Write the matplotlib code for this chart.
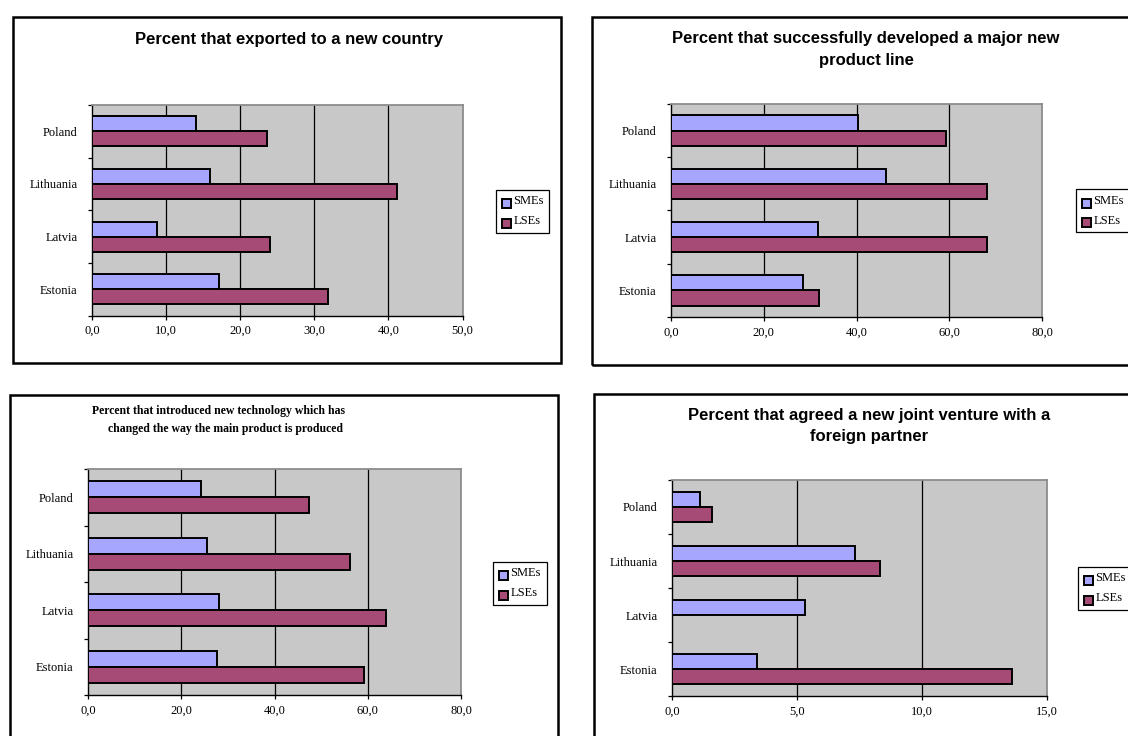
import matplotlib
matplotlib.use('Agg')
import matplotlib.pyplot as plt
from matplotlib.patches import Rectangle, Patch
from matplotlib.legend_handler import HandlerPatch
from matplotlib.ticker import FixedLocator, FuncFormatter

W, H = 1128, 736

countries = ['Estonia', 'Latvia', 'Lithuania', 'Poland']
series_names = ['SMEs', 'LSEs']

export_sme = [17.2, 8.8, 15.9, 14.0]
export_lse = [31.8, 24.0, 41.1, 23.6]
product_sme = [28.5, 31.6, 46.3, 40.4]
product_lse = [31.9, 68.1, 68.1, 59.2]
tech_sme = [27.6, 28.0, 25.5, 24.3]
tech_lse = [59.1, 64.0, 56.1, 47.5]
jv_sme = [3.4, 5.3, 7.3, 1.1]
jv_lse = [13.6, 0.0, 8.3, 1.6]

title_export = ['Percent that exported to a new country']
title_product = ['Percent that successfully developed a major new', 'product line']
title_tech = ['Percent that introduced new technology which has',
              'changed the way the main product is produced']
title_jv = ['Percent that agreed a new joint venture with a', 'foreign partner']

SME_COLOR = '#a6a6ff'
LSE_COLOR = '#a64a76'
BG = '#c8c8c8'
SERIF = 'Liberation Serif'
SANS = 'Liberation Sans'

fig = plt.figure(figsize=(W / 100, H / 100), dpi=100)


def fx(x):
    return x / W


def fy(y):
    return 1 - y / H


def frame(x0, y0, x1, y1):
    fig.add_artist(Rectangle((fx(x0), fy(y1)), (x1 - x0) / W, (y1 - y0) / H,
                             transform=fig.transFigure, fill=False,
                             ec='black', lw=1.8))


def low_square(legend, orig_handle, xdescent, ydescent, width, height, fontsize):
    s = 6.4
    return Rectangle((-xdescent + (width - s) / 2, -ydescent - 2.6), s, s)


def panel(box, sme, lse, xmax, step, title_lines, title_pos, title_style,
          legend_pos):
    x0, y0, x1, y1 = box
    ax = fig.add_axes([fx(x0), fy(y1), (x1 - x0) / W, (y1 - y0) / H])
    ax.set_facecolor(BG)
    b = 1 / 3.5
    ys = list(range(len(countries)))
    ax.barh([y + b / 2 for y in ys], sme, height=b, color=SME_COLOR,
            edgecolor='black', lw=1.4, zorder=3)
    ax.barh([y - b / 2 for y in ys], lse, height=b, color=LSE_COLOR,
            edgecolor='black', lw=1.4, zorder=3)
    ax.set_ylim(-0.5, len(countries) - 0.5)
    ax.set_xlim(0, xmax)
    ticks = [i * step for i in range(int(round(xmax / step)) + 1)]
    for t in ticks[1:-1]:
        ax.axvline(t, color='black', lw=0.9, zorder=1)
    ax.xaxis.set_major_locator(FixedLocator(ticks))
    ax.xaxis.set_major_formatter(FuncFormatter(
        lambda v, p: f'{v:.1f}'.replace('.', ',')))
    ax.tick_params(axis='x', length=3, width=0.9, pad=4, labelsize=9,
                   direction='out')
    ax.set_yticks(ys)
    ax.set_yticklabels(countries)
    ax.yaxis.set_minor_locator(FixedLocator([y - 0.5 for y in range(len(countries) + 1)]))
    ax.tick_params(axis='y', which='major', length=0, pad=10.5, labelsize=9)
    ax.tick_params(axis='y', which='minor', length=3, width=0.9,
                   direction='out')
    for lab in ax.get_xticklabels() + ax.get_yticklabels():
        lab.set_fontfamily(SERIF)
    for s in ['left', 'bottom']:
        ax.spines[s].set_color('black')
        ax.spines[s].set_linewidth(1.0)
    for s in ['top', 'right']:
        ax.spines[s].set_color('#8c8c8c')
        ax.spines[s].set_linewidth(1.3)
    for (tx, ty), line in zip(title_pos, title_lines):
        fig.text(fx(tx), fy(ty), line, ha='center', va='center', **title_style)
    handles = [Patch(facecolor=c, edgecolor='black', lw=1.4)
               for c in (SME_COLOR, LSE_COLOR)]
    leg = ax.legend(handles, series_names, loc='upper left',
                    bbox_to_anchor=(fx(legend_pos[0]), fy(legend_pos[1])),
                    bbox_transform=fig.transFigure, frameon=True,
                    fancybox=False, edgecolor='black', framealpha=1,
                    borderpad=0.45, labelspacing=0.62, handlelength=0.8,
                    handleheight=0.7, handletextpad=0.15, borderaxespad=0,
                    handler_map={Patch: HandlerPatch(patch_func=low_square)},
                    prop={'family': SERIF, 'size': 9})
    leg.get_frame().set_linewidth(0.9)
    return ax


sans_title = dict(fontfamily=SANS, fontweight='bold', fontsize=12)
serif_title = dict(fontfamily=SERIF, fontweight='bold', fontsize=8.5)

frame(13, 17, 560.5, 363)
frame(592, 17, 1145, 365)
frame(10, 395, 558, 760)
frame(594, 394, 1145, 760)

panel((92, 105, 462.5, 315.5), export_sme, export_lse, 50, 10, title_export,
      [(288.7, 39.7)], sans_title, (495.7, 189.6))
panel((671, 104, 1042, 317), product_sme, product_lse, 80, 20, title_product,
      [(866, 39), (866, 61)], sans_title, (1076, 189.3))
panel((88, 469, 461, 695), tech_sme, tech_lse, 80, 20, title_tech,
      [(219, 411), (225.5, 429)], serif_title, (493, 561.7))
panel((672, 480, 1047, 696), jv_sme, jv_lse, 15, 5, title_jv,
      [(869, 416), (869, 437)], sans_title, (1078, 566.7))

fig.savefig('out.png', dpi=100, facecolor='white')
